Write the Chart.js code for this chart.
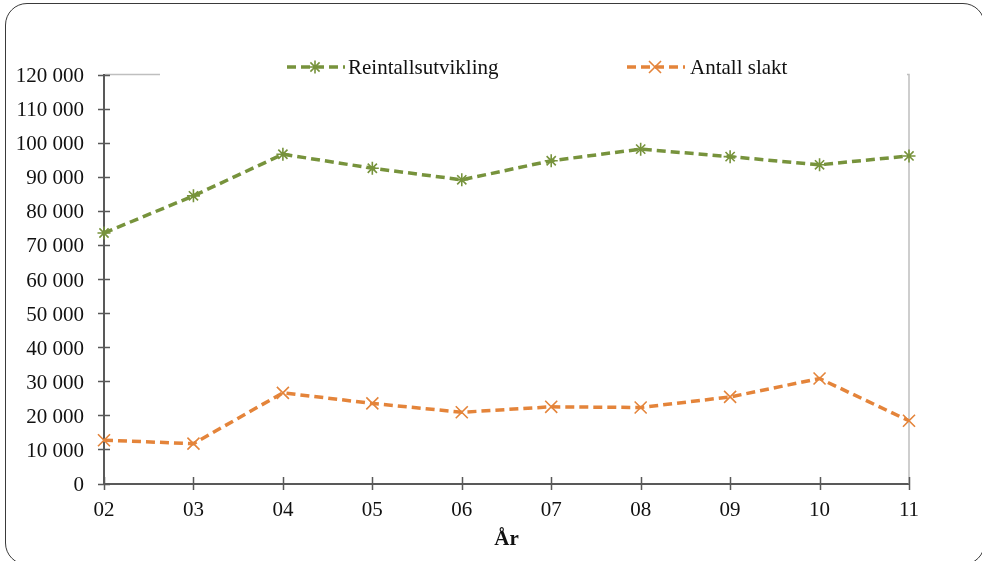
<!DOCTYPE html>
<html><head><meta charset="utf-8">
<script src="https://cdn.jsdelivr.net/npm/chart.js@4"></script>
<style>
html,body{margin:0;padding:0;background:#fff;}
#wrap{position:relative;width:982px;height:561px;overflow:hidden;background:#fff;}
#frame{position:absolute;left:5px;top:3px;width:980px;height:562px;border:1.3px solid #3a3a3a;border-radius:22px;box-sizing:border-box;pointer-events:none;}
canvas{position:absolute;left:0;top:0;}
</style></head><body>
<div id="wrap"><canvas id="c" width="982" height="561"></canvas><div id="frame"></div></div>
<script>
const years = ['02','03','04','05','06','07','08','09','10','11'];
const reintall = [73500, 84400, 96600, 92500, 89100, 94700, 98100, 95900, 93500, 96100];
const slakt = [12700, 11700, 26600, 23500, 20900, 22500, 22300, 25400, 30800, 18400];
const seriesNames = ['Reintallsutvikling', 'Antall slakt'];
const yTickValues = [0,10000,20000,30000,40000,50000,60000,70000,80000,90000,100000,110000,120000];
const xTitle = 'År';

const GREEN = '#77933C';
const ORANGE = '#E4843A';
const AXIS = '#595959';
const FONT = "'Liberation Serif','Times New Roman',serif";

function fmt(v){ return String(v).replace(/\B(?=(\d{3})+(?!\d))/g,' '); }

function marker(ctx, style, x, y, r, color){
  ctx.save();
  ctx.setLineDash([]);
  ctx.strokeStyle = color; ctx.lineWidth = 1.6;
  ctx.beginPath();
  if (style === 'star') {
    ctx.moveTo(x, y-r); ctx.lineTo(x, y+r);
    ctx.moveTo(x-r, y); ctx.lineTo(x+r, y);
  }
  const dd = r*0.707;
  ctx.moveTo(x-dd, y-dd); ctx.lineTo(x+dd, y+dd);
  ctx.moveTo(x-dd, y+dd); ctx.lineTo(x+dd, y-dd);
  ctx.stroke();
  ctx.restore();
}

const decor = {
  id: 'decor',
  beforeDatasetsDraw(chart){
    const {ctx, chartArea:a, scales:{x, y}} = chart;
    ctx.save();
    ctx.strokeStyle = '#BFBFBF'; ctx.lineWidth = 1.5;
    ctx.beginPath();
    ctx.moveTo(a.left+1, a.top); ctx.lineTo(160, a.top);
    ctx.moveTo(a.right-2, a.top); ctx.lineTo(a.right, a.top); ctx.lineTo(a.right, a.bottom);
    ctx.stroke();
    ctx.strokeStyle = AXIS; ctx.lineWidth = 1.5;
    ctx.beginPath();
    yTickValues.forEach(v => { const py = Math.round(y.getPixelForValue(v))+0.5; ctx.moveTo(a.left-6, py); ctx.lineTo(a.left+6, py); });
    years.forEach((c, i) => { const px = Math.round(x.getPixelForValue(i))+0.5; ctx.moveTo(px, a.bottom-6.5); ctx.lineTo(px, a.bottom+6.5); });
    ctx.stroke();
    ctx.restore();
  },
  afterDraw(chart){
    const ctx = chart.ctx;
    const items = [
      {x0:287, x1:345, mx:315, tx:348, color:GREEN, style:'star', r:6.5, name:seriesNames[0]},
      {x0:627, x1:685, mx:655, tx:690, color:ORANGE, style:'crossRot', r:8.5, name:seriesNames[1]}
    ];
    const ly = 67;
    ctx.save();
    items.forEach(it => {
      ctx.strokeStyle = it.color; ctx.lineWidth = 3.5; ctx.setLineDash([9,5]);
      ctx.beginPath(); ctx.moveTo(it.x0, ly); ctx.lineTo(it.x1, ly); ctx.stroke();
      ctx.setLineDash([]);
      marker(ctx, it.style, it.mx, ly, it.r, it.color);
      ctx.fillStyle = '#111'; ctx.font = '21px ' + FONT; ctx.textBaseline = 'middle'; ctx.textAlign = 'left';
      ctx.fillText(it.name, it.tx, ly+1.5);
    });
    ctx.restore();
  }
};

new Chart(document.getElementById('c'), {
  type: 'line',
  data: {
    labels: years,
    datasets: [
      {label: seriesNames[0], data: reintall, borderColor: GREEN, backgroundColor: GREEN, borderWidth: 3.5, borderDash: [9,5],
       pointStyle: 'star', pointRadius: 6.5, pointBorderWidth: 1.6, pointBorderColor: GREEN, pointBackgroundColor: GREEN, tension: 0, fill: false},
      {label: seriesNames[1], data: slakt, borderColor: ORANGE, backgroundColor: ORANGE, borderWidth: 3.5, borderDash: [9,5],
       pointStyle: 'crossRot', pointRadius: 8.5, pointBorderWidth: 1.6, pointBorderColor: ORANGE, pointBackgroundColor: ORANGE, tension: 0, fill: false}
    ]
  },
  options: {
    responsive: false, animation: false, devicePixelRatio: 1,
    layout: {padding: {top: 74.5, right: 73, bottom: 0, left: 0}},
    plugins: {legend: {display: false}, tooltip: {enabled: false}},
    scales: {
      x: {
        offset: false,
        grid: {display: false, drawTicks: false},
        border: {display: true, color: AXIS, width: 2},
        ticks: {color: '#111', font: {family: FONT, size: 21}, padding: 14, maxRotation: 0, autoSkip: false},
        title: {display: true, text: xTitle, color: '#111', font: {family: FONT, size: 21, weight: 'bold'}, padding: {top: 2, bottom: 9}},
        afterFit(s){ s.height = 77.5; s.paddingLeft = 0; s.paddingRight = 0; }
      },
      y: {
        min: 0, max: 120000,
        grid: {display: false, drawTicks: false},
        border: {display: true, color: AXIS, width: 2},
        ticks: {stepSize: 10000, color: '#111', font: {family: FONT, size: 21}, padding: 20, labelOffset: 2, callback: v => fmt(v)},
        afterFit(s){ s.width = 104; s.paddingTop = 0; s.paddingBottom = 0; }
      }
    }
  },
  plugins: [decor]
});
</script>
</body></html>
